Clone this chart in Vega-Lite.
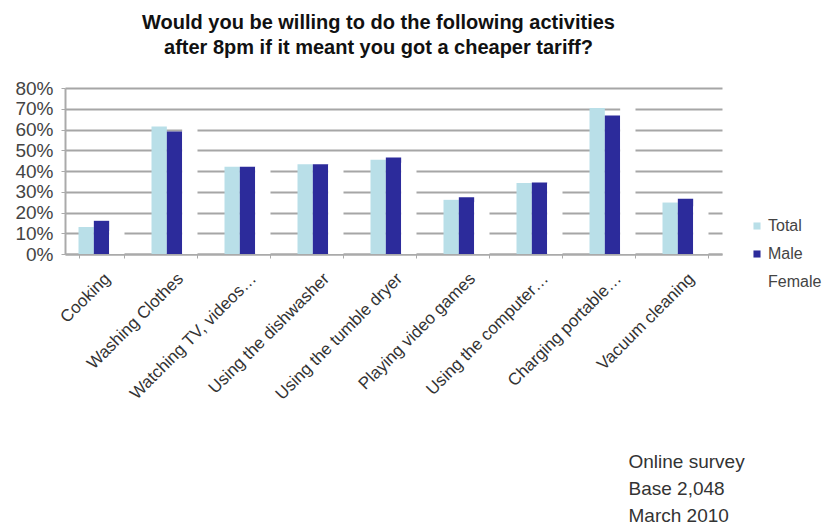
{
  "$schema": "https://vega.github.io/schema/vega-lite/v6.json",
  "width": 657,
  "height": 166,
  "autosize": {"type": "none"},
  "padding": {"left": 65, "top": 88, "right": 113, "bottom": 274},
  "background": "white",
  "title": {
    "text": ["Would you be willing to do the following activities", "after 8pm if it meant you got a cheaper tariff?"],
    "font": "Liberation Sans",
    "fontSize": 20,
    "fontWeight": "bold",
    "color": "#111111",
    "anchor": "middle",
    "dx": -15,
    "offset": 21,
    "lineHeight": 25
  },
  "data": {
    "values": [
      {"activity": "Cooking", "series": "Total", "value": 0.13},
      {"activity": "Cooking", "series": "Male", "value": 0.16},
      {"activity": "Cooking", "series": "Female", "value": 0.11},
      {"activity": "Washing Clothes", "series": "Total", "value": 0.615},
      {"activity": "Washing Clothes", "series": "Male", "value": 0.59},
      {"activity": "Washing Clothes", "series": "Female", "value": 0.64},
      {"activity": "Watching TV, videos…", "series": "Total", "value": 0.42},
      {"activity": "Watching TV, videos…", "series": "Male", "value": 0.42},
      {"activity": "Watching TV, videos…", "series": "Female", "value": 0.42},
      {"activity": "Using the dishwasher", "series": "Total", "value": 0.433},
      {"activity": "Using the dishwasher", "series": "Male", "value": 0.433},
      {"activity": "Using the dishwasher", "series": "Female", "value": 0.43},
      {"activity": "Using the tumble dryer", "series": "Total", "value": 0.454},
      {"activity": "Using the tumble dryer", "series": "Male", "value": 0.465},
      {"activity": "Using the tumble dryer", "series": "Female", "value": 0.44},
      {"activity": "Playing video games", "series": "Total", "value": 0.261},
      {"activity": "Playing video games", "series": "Male", "value": 0.274},
      {"activity": "Playing video games", "series": "Female", "value": 0.25},
      {"activity": "Using the computer…", "series": "Total", "value": 0.342},
      {"activity": "Using the computer…", "series": "Male", "value": 0.345},
      {"activity": "Using the computer…", "series": "Female", "value": 0.34},
      {"activity": "Charging portable…", "series": "Total", "value": 0.704},
      {"activity": "Charging portable…", "series": "Male", "value": 0.667},
      {"activity": "Charging portable…", "series": "Female", "value": 0.74},
      {"activity": "Vacuum cleaning", "series": "Total", "value": 0.248},
      {"activity": "Vacuum cleaning", "series": "Male", "value": 0.266},
      {"activity": "Vacuum cleaning", "series": "Female", "value": 0.23}
    ]
  },
  "mark": {"type": "bar"},
  "encoding": {
    "x": {
      "field": "activity",
      "type": "nominal",
      "sort": null,
      "scale": {"paddingInner": 0.37, "paddingOuter": 0.185},
      "axis": {
        "title": ["Online survey", "Base 2,048", "March 2010"],
        "titleX": 563,
        "titleY": 198,
        "titleAlign": "left",
        "titleBaseline": "top",
        "titleFont": "Liberation Sans",
        "titleFontSize": 19,
        "titleFontWeight": "normal",
        "titleColor": "#333333",
        "titleLineHeight": 27,
        "labelAngle": -45,
        "labelFont": "Liberation Sans",
        "labelFontSize": 17,
        "labelColor": "#333333",
        "labelPadding": 12,
        "labelLimit": 400,
        "tickBand": "extent",
        "tickColor": "#aaaaaa",
        "tickSize": 4,
        "domainColor": "#aaaaaa",
        "domainWidth": 2,
        "grid": false
      }
    },
    "xOffset": {"field": "series", "type": "nominal", "sort": ["Total", "Male", "Female"]},
    "y": {
      "field": "value",
      "type": "quantitative",
      "scale": {"domain": [0, 0.8], "nice": false},
      "axis": {
        "title": null,
        "format": ".0%",
        "values": [0, 0.1, 0.2, 0.3, 0.4, 0.5, 0.6, 0.7, 0.8],
        "labelFont": "Liberation Sans",
        "labelFontSize": 19,
        "labelColor": "#444444",
        "labelPadding": 8,
        "tickColor": "#aaaaaa",
        "tickSize": 4,
        "domainColor": "#aaaaaa",
        "domainWidth": 2,
        "gridColor": "#a6a6a6",
        "gridWidth": 2
      }
    },
    "color": {
      "field": "series",
      "type": "nominal",
      "scale": {"domain": ["Total", "Male", "Female"], "range": ["#b9dfe8", "#2c2b9b", "#ffffff"]},
      "legend": {
        "title": null,
        "orient": "none",
        "legendX": 684,
        "legendY": 130,
        "symbolType": "square",
        "symbolSize": 50,
        "symbolStrokeWidth": 0,
        "labelFont": "Liberation Sans",
        "labelFontSize": 16,
        "labelColor": "#444444",
        "labelOffset": 3,
        "rowPadding": 12
      }
    }
  },
  "config": {"view": {"stroke": null}}
}
